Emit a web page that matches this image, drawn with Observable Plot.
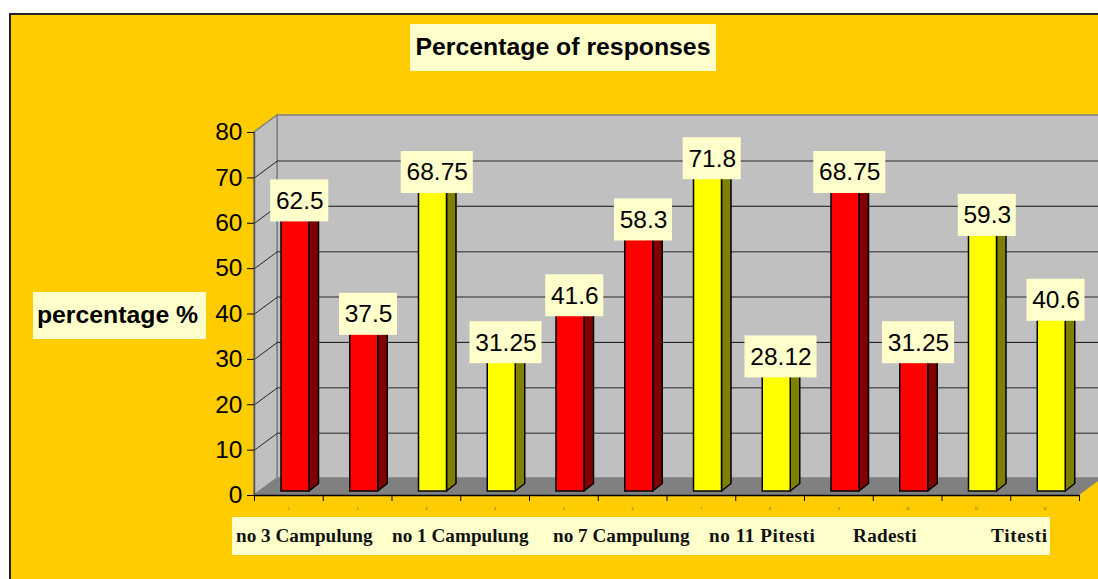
<!DOCTYPE html>
<html>
<head>
<meta charset="utf-8">
<script src="https://cdn.jsdelivr.net/npm/d3@7"></script>
<script src="https://cdn.jsdelivr.net/npm/@observablehq/plot@0.6"></script>
<style>
  html, body { margin: 0; padding: 0; background: #fff; overflow: hidden; }
  #stage { position: relative; width: 1098px; height: 579px; overflow: hidden; }
  #panel { position: absolute; left: 9px; top: 13px; width: 1100px; height: 580px;
           background: #FFCC00; border: 2px solid #222; box-sizing: border-box; }
  #stage svg { position: absolute; left: 0; top: 0; background: transparent; }
  .box { position: absolute; background: #FFFFCC; color: #000; white-space: nowrap; box-sizing: border-box; }
  .sans { font: bold 24.8px "Liberation Sans", Arial, sans-serif; display: flex;
          align-items: center; justify-content: center; padding-bottom: 2px; }
  .serif { font: bold 19.2px "Liberation Serif", "Times New Roman", serif; color: #111; }
  .serif span { position: absolute; top: 8px; }
</style>
</head>
<body>
<div id="stage">
  <div id="panel"></div>
  <div id="chart"></div>
  <div class="box sans" style="left:410px;top:24px;width:306px;height:47px">Percentage of responses</div>
  <div class="box sans" style="left:33px;top:292px;width:173px;height:47px;padding-right:4px">percentage %</div>
  <div class="box serif" id="names" style="left:232px;top:517px;width:818px;height:38px"></div>
</div>
<script>
// Responses per school, two schools per town, alternating colour by town.
const values = [62.5, 37.5, 68.75, 31.25, 41.6, 58.3, 71.8, 28.12, 68.75, 31.25, 59.3, 40.6];
const valueLabels = ["62.5", "37.5", "68.75", "31.25", "41.6", "58.3", "71.8", "28.12", "68.75", "31.25", "59.3", "40.6"];
const townNames = ["no 3 Campulung", "no 1 Campulung", "no 7 Campulung", "no 11 Pitesti", "Radesti", "Titesti"];
const townLeft = [4, 160, 321, 477, 621, 759];
const townTracking = [0, 0, 0, 0.55, 0.3, 0.7];
const yTicks = [0, 10, 20, 30, 40, 50, 60, 70, 80];
const faceColors = [["#FF0000", "#800000"], ["#FFFF00", "#808000"]];

// Pixels per unit on each scale, used to express the oblique depth in data units.
const pxX = 68.75, pxY = 4.5375;
const depthX = 23 / pxX, depthY = 17 / pxY;
const barLeft = 27 / pxX, barWidth = 28 / pxX, barBase = 4 / pxY;
const sideX = 9.5 / pxX, sideY = 7.5 / pxY;

const bars = values.map((v, i) => {
  const x1 = i + barLeft, x2 = x1 + barWidth, top = barBase + v;
  const [front, side] = faceColors[Math.floor(i / 2) % 2];
  return {i, v, x1, x2, top, front, side, label: valueLabels[i]};
});
const sidePoints = bars.flatMap(b => [
  {i: b.i, x: b.x2, y1: barBase, y2: b.top, fill: b.side},
  {i: b.i, x: b.x2 + sideX, y1: barBase + sideY, y2: b.top + sideY, fill: b.side}
]);
const topPoints = bars.flatMap(b => [
  {i: b.i, y: b.top, x1: b.x1, x2: b.x2, fill: b.front},
  {i: b.i, y: b.top + sideY, x1: b.x1 + sideX, x2: b.x2 + sideX, fill: b.front}
]);
const labelCenter = b => b.x1 + (barWidth + sideX) / 2 - 0.5 / pxX;
const labelY = b => b.top + 7 / pxY;
const labelHalf = b => (b.label.length > 4 ? 36 : 29) / pxX;
const wallLeft = [
  {x: 0, y1: 0, y2: 80},
  {x: depthX, y1: depthY, y2: 80 + depthY}
];
const floor = [
  {y: 0, x1: 0, x2: 12},
  {y: depthY, x1: depthX, x2: 12 + depthX}
];
const blackGrid = new Set([30, 60]);

const chart = Plot.plot({
  width: 1098, height: 579,
  marginLeft: 254, marginRight: 19, marginTop: 132, marginBottom: 84,
  style: {background: "transparent", fontFamily: '"Liberation Sans", Arial, sans-serif'},
  x: {domain: [0, 12]},
  y: {domain: [0, 80]},
  marks: [
    // Back wall, side wall and floor of the oblique box
    Plot.rect([0], {x1: depthX, x2: 12 + depthX, y1: depthY, y2: 80 + depthY, fill: "#C0C0C0", stroke: "#808080", strokeWidth: 1.5}),
    Plot.areaY(wallLeft, {x: "x", y1: "y1", y2: "y2", fill: "#C0C0C0", stroke: "#808080", strokeWidth: 1.5}),
    Plot.ruleY(yTicks.slice(1, -1), {
      y: d => d + depthY, x1: depthX, x2: 12 + depthX,
      stroke: d => blackGrid.has(d) ? "#111" : "#5a5a5a",
      strokeWidth: d => blackGrid.has(d) ? 1 : 1.5
    }),
    Plot.link(yTicks.slice(1, -1), {x1: 0, y1: d => d, x2: depthX, y2: d => d + depthY, stroke: "#222", strokeWidth: 1}),
    Plot.areaX(floor, {y: "y", x1: "x1", x2: "x2", fill: "#808080"}),
    // Axes along the front edge
    Plot.ruleX([0], {y1: 0, y2: 80, stroke: "#555", strokeWidth: 1.5}),
    Plot.ruleY([0], {stroke: "#000", strokeWidth: 1.5}),
    Plot.axisY({ticks: yTicks, tickSize: 7, tickPadding: 5, fontSize: 24.5, label: null, color: "#000"}),
    Plot.axisX({ticks: d3.range(0, 13), tickSize: 6, tickFormat: () => "", label: null, color: "#000"}),
    Plot.text(values, {x: (d, i) => i + 0.5, y: 0, text: (d, i) => String(i + 1), dy: 14, fontSize: 3, fill: "#444"}),
    // Bars: side, top and front faces
    Plot.areaY(sidePoints, {x: "x", y1: "y1", y2: "y2", z: "i", fill: "fill", stroke: "#000", strokeWidth: 1.5}),
    Plot.areaX(topPoints, {y: "y", x1: "x1", x2: "x2", z: "i", fill: "fill", stroke: "#000", strokeWidth: 1.5}),
    Plot.rect(bars, {x1: "x1", x2: "x2", y1: barBase, y2: "top", fill: "front", stroke: "#000", strokeWidth: 1.5}),
    // Value labels on pale boxes
    Plot.rect(bars, {
      x1: b => labelCenter(b) - labelHalf(b), x2: b => labelCenter(b) + labelHalf(b),
      y1: b => labelY(b) - 21 / pxY, y2: b => labelY(b) + 21 / pxY,
      fill: "#FFFFCC"
    }),
    Plot.text(bars, {x: labelCenter, y: labelY, text: "label", fontSize: 24.5, fill: "#000"})
  ]
});
document.getElementById("chart").appendChild(chart);

// Town names sit in one strip under the axis.
const strip = document.getElementById("names");
townNames.forEach((name, i) => {
  const s = document.createElement("span");
  s.textContent = name;
  s.style.left = townLeft[i] + "px";
  s.style.letterSpacing = townTracking[i] + "px";
  strip.appendChild(s);
});
</script>
</body>
</html>
